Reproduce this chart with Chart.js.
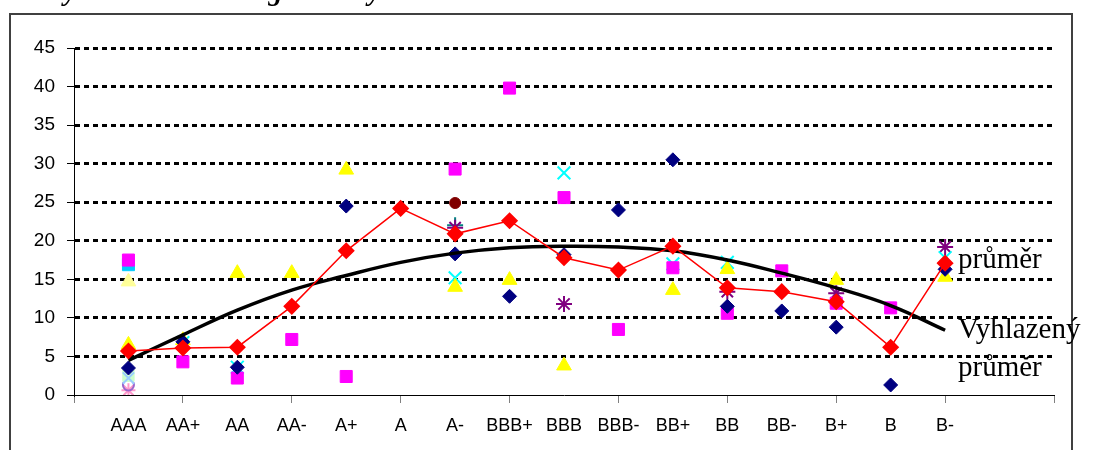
<!DOCTYPE html>
<html>
<head>
<meta charset="utf-8">
<script src="https://cdn.jsdelivr.net/npm/chart.js@4"></script>
<style>
  body { margin: 0; background: #fff; }
  #wrap { position: relative; width: 1093px; height: 450px; }
</style>
</head>
<body>
<div id="wrap"><canvas id="ratingChart"></canvas></div>
<script>
// categories on the x axis (x = 1..16)
const categories = ['AAA', 'AA+', 'AA', 'AA-', 'A+', 'A', 'A-', 'BBB+', 'BBB', 'BBB-', 'BB+', 'BB', 'BB-', 'B+', 'B', 'B-'];

// průměr (red line) and vyhlazený průměr (black line)
const prumer = [5.7, 6.1, 6.2, 11.5, 18.7, 24.2, 20.9, 22.6, 17.8, 16.2, 19.3, 13.9, 13.4, 12.1, 6.2, 17.1];
const vyhlazeny = [4.5, 7.8, 11.0, 13.6, 15.5, 17.2, 18.4, 19.1, 19.3, 19.2, 18.7, 17.5, 15.8, 13.9, 11.6, 8.4];

// individual observations, null = no value for that rating
const tmaveModra = [3.5, 6.9, 3.6, null, 24.5, null, 18.3, 12.8, 18.2, 24.0, 30.5, 11.5, 10.9, 8.8, 1.3, 16.3];
const purpurova = [17.5, 4.3, 2.2, 7.2, 2.4, null, 29.3, 39.8, 25.6, 8.5, 16.5, 10.6, 16.1, 11.9, 11.3, null];
const zluta = [6.5, 7.1, 15.8, 15.8, 29.2, null, 14.0, 14.9, 3.8, null, 13.6, 16.3, null, 14.9, null, 15.3];
const azurova = [null, 6.8, 3.6, null, null, null, 15.2, null, 28.8, null, 17.0, 17.2, null, null, null, 17.8];
const fialova = [null, null, null, null, null, null, 21.7, null, 11.8, null, null, 13.4, null, 13.2, null, 19.2];
const hneda = [null, null, null, null, null, null, 24.9, null, null, null, null, null, null, null, null, null];
const sedozelena = [null, null, null, null, null, null, 22.0, null, null, null, null, null, null, null, null, null];
const svetleZluta = [14.7, null, null, null, null, null, null, null, null, null, null, null, null, null, null, null];
const tyrkysova = [16.9, null, null, null, null, null, null, null, null, null, null, null, null, null, null, null];
const svetleZelena = [2.5, null, null, null, null, null, null, null, null, null, null, null, null, null, null, null];
const svetleModra = [2.2, null, null, null, null, null, null, null, null, null, null, null, null, null, null, null];
const levandulova = [1.3, null, null, null, null, null, null, null, null, null, null, null, null, null, null, null];
const ruzova = [0.6, null, null, null, null, null, null, null, null, null, null, null, null, null, null, null];

function toPoints(arr) {
  return arr.map((v, i) => (v === null ? null : { x: i + 1, y: v })).filter(p => p);
}

function markers(label, arr, style, color, radius, filled) {
  return {
    label: label,
    data: toPoints(arr),
    showLine: false,
    pointStyle: style,
    pointRadius: radius,
    pointBackgroundColor: filled ? color : 'rgba(0,0,0,0)',
    pointBorderColor: color,
    pointBorderWidth: filled ? 1 : 2
  };
}

const decorations = {
  id: 'decorations',
  beforeDraw(chart) {
    const ctx = chart.ctx;
    ctx.save();
    ctx.strokeStyle = '#404040';
    ctx.lineWidth = 2;
    ctx.strokeRect(10, 14, 1062, 450);
    ctx.restore();
  },
  afterDraw(chart) {
    const ctx = chart.ctx;
    ctx.save();
    ctx.fillStyle = '#000';
    ctx.textAlign = 'left';
    ctx.textBaseline = 'alphabetic';
    ctx.font = 'bold italic 28px "Liberation Serif"';
    ctx.fillText('Kurzy dle úrovně ratingu a doby', 8, 0);
    ctx.font = '29px "Liberation Serif"';
    ctx.fillText('průměr', 958, 268);
    ctx.fillText('Vyhlazený', 958, 338);
    ctx.fillText('průměr', 958, 376);
    ctx.restore();
  }
};

const ctx = document.getElementById('ratingChart').getContext('2d');
new Chart(ctx, {
  type: 'scatter',
  data: {
    datasets: [
      {
        label: 'průměr',
        data: toPoints(prumer),
        showLine: true,
        borderColor: '#FF0000',
        borderWidth: 1.5,
        pointStyle: 'rectRot',
        pointRadius: 7.5,
        pointBackgroundColor: '#FF0000',
        pointBorderColor: '#FF0000',
        tension: 0
      },
      {
        label: 'Vyhlazený průměr',
        data: toPoints(vyhlazeny),
        showLine: true,
        borderColor: '#000000',
        borderWidth: 3.5,
        pointRadius: 0,
        tension: 0.4
      },
      markers('s1', tmaveModra, 'rectRot', '#000080', 7, true),
      markers('s2', purpurova, 'rect', '#FF00FF', 8.5, true),
      markers('s3', tyrkysova, 'rect', '#00CCFF', 8.5, true),
      markers('s4', zluta, 'triangle', '#FFFF00', 8.5, true),
      markers('s5', azurova, 'crossRot', '#00FFFF', 9, false),
      markers('s6', fialova, 'star', '#800080', 8, false),
      markers('s7', hneda, 'circle', '#800000', 5.5, true),
      markers('s8', sedozelena, 'cross', '#008080', 8, false),
      markers('s9', svetleZluta, 'triangle', '#FFFF99', 8.5, true),
      markers('s10', svetleModra, 'crossRot', '#99CCFF', 8, false),
      markers('s11', svetleZelena, 'rect', '#CCFFCC', 8, true),
      markers('s12', levandulova, 'circle', '#9966CC', 5.5, false),
      markers('s13', ruzova, 'star', '#FF99CC', 7, false)
    ]
  },
  options: {
    responsive: true,
    maintainAspectRatio: false,
    animation: false,
    layout: { padding: { left: 0, top: 48, right: 39, bottom: 0 } },
    plugins: {
      legend: { display: false },
      tooltip: { enabled: false }
    },
    scales: {
      x: {
        type: 'linear',
        min: 0,
        max: 18,
        afterFit: (scale) => { scale.height = 55; },
        ticks: {
          stepSize: 1,
          autoSkip: false,
          maxRotation: 0,
          padding: 12,
          color: '#000',
          font: { family: 'Liberation Sans, Arial', size: 18 },
          callback: (v) => categories[v - 1] || ''
        },
        grid: {
          drawOnChartArea: false,
          tickLength: 8,
          tickColor: (c) => (c.tick && c.tick.value % 2 === 0 ? '#808080' : 'rgba(0,0,0,0)')
        },
        border: { color: '#000', width: 1 }
      },
      y: {
        min: 0,
        max: 45,
        afterFit: (scale) => { scale.width = 74; },
        ticks: {
          stepSize: 5,
          padding: 12,
          color: '#000',
          font: { family: 'Liberation Sans, Arial', size: 19 }
        },
        grid: {
          color: (c) => (c.tick && c.tick.value === 0 ? 'rgba(0,0,0,0)' : '#000'),
          lineWidth: 3,
          tickLength: 7,
          tickWidth: 1,
          tickColor: '#000'
        },
        border: { color: '#000', width: 1, dash: [5, 4] }
      }
    }
  },
  plugins: [decorations]
});
</script>
</body>
</html>
